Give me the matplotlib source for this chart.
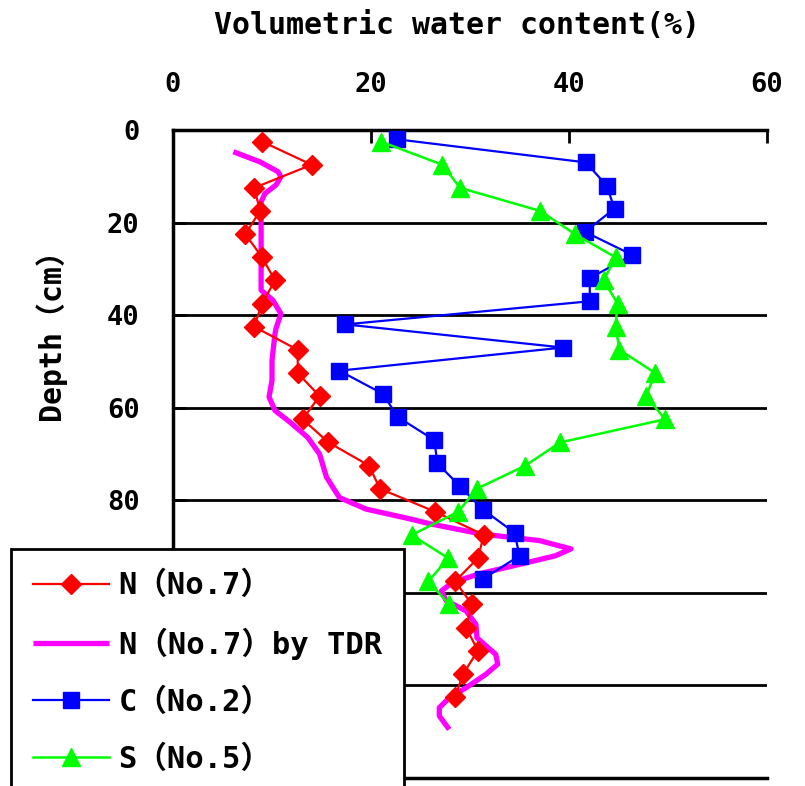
import matplotlib
matplotlib.use("Agg")
import matplotlib.pyplot as plt

plt.rcParams['font.family'] = ['DejaVu Sans Mono', 'Noto Sans CJK JP']
plt.rcParams['font.weight'] = 'bold'

# Soil water profiles: depth (cm) vs volumetric water content (%)
n7_depth = [2.5, 7.5, 12.5, 17.5, 22.5, 27.5, 32.5, 37.5, 42.5, 47.5, 52.5, 57.5,
            62.5, 67.5, 72.5, 77.5, 82.5, 87.5, 92.5, 97.5, 102.5, 107.5, 112.5,
            117.5, 122.5]
n7_theta = [9.0, 14.0, 8.2, 8.8, 7.3, 9.0, 10.3, 9.0, 8.2, 12.6, 12.6, 14.8,
            13.1, 15.7, 19.8, 20.9, 26.5, 31.4, 30.8, 28.5, 30.2, 29.6, 30.8,
            29.3, 28.5]

tdr_depth = [4.7, 6.9, 9.0, 10.1, 11.9, 13.7, 15.5, 19.5, 34.6, 36.8, 39.7, 42.9,
             44.0, 49.8, 54.1, 57.7, 60.6, 63.1, 66.4, 70.0, 75.0, 79.4, 81.9,
             84.0, 85.1, 87.3, 88.7, 90.5, 92.0, 94.2, 95.9, 97.8, 99.6, 101.7,
             103.9, 106.8, 109.7, 113.3, 115.4, 117.6, 120.5, 122.7, 124.8,
             126.6, 129.5]
tdr_theta = [6.1, 8.8, 10.6, 10.9, 10.4, 9.3, 8.9, 8.9, 8.9, 10.1, 10.9, 10.4,
             10.3, 10.0, 10.0, 9.7, 10.3, 11.8, 13.6, 14.8, 15.5, 16.8, 19.5,
             23.9, 26.0, 31.2, 37.0, 40.2, 38.6, 34.3, 30.9, 28.2, 27.1, 27.6,
             29.6, 30.6, 30.7, 32.6, 32.8, 31.6, 29.6, 27.9, 26.9, 26.9, 27.9]

c2_depth = [2, 7, 12, 17, 22, 27, 32, 37, 42, 47, 52, 57, 62, 67, 72, 77, 82,
            87, 92, 97]
c2_theta = [22.6, 41.7, 43.8, 44.6, 41.6, 46.4, 42.1, 42.1, 17.4, 39.4, 16.8,
            21.2, 22.7, 26.4, 26.7, 29.0, 31.3, 34.5, 35.0, 31.3]

s5_depth = [2.5, 7.5, 12.5, 17.5, 22.5, 27.5, 32.5, 37.5, 42.5, 47.5, 52.5,
            57.5, 62.5, 67.5, 72.5, 77.5, 82.5, 87.5, 92.5, 97.5, 102.5]
s5_theta = [21.0, 27.2, 29.0, 37.1, 40.6, 44.7, 43.5, 44.9, 44.7, 45.1, 48.7,
            47.8, 49.7, 39.1, 35.6, 30.7, 28.8, 24.1, 27.8, 25.8, 27.9]

x_ticks = [0, 20, 40, 60]
y_ticks = [0, 20, 40, 60, 80, 100, 120]
# the lower depth labels sit behind the legend box
y_labels = ['0', '20', '40', '60', '80', '', '']

fig = plt.figure(figsize=(8.05, 7.86), dpi=100)
ax = fig.add_axes([173 / 805, 1 - 778 / 786, (767 - 173) / 805, (778 - 130) / 786])

ax.plot(n7_theta, n7_depth, color='#ff0000', lw=1.6, marker='D', ms=10.5,
        mec='#ff0000', mfc='#ff0000', label='N（No.7）', zorder=4)
ax.plot(tdr_theta, tdr_depth, color='#ff00ff', lw=3.8, label='N（No.7）by TDR',
        zorder=3, solid_joinstyle='round', solid_capstyle='butt')
ax.plot(c2_theta, c2_depth, color='#0000ff', lw=1.6, marker='s', ms=11,
        mec='#0000ff', mfc='#0000ff', label='C（No.2）', zorder=5)
ax.plot(s5_theta, s5_depth, color='#00ff00', lw=1.8, marker='^', ms=13,
        mec='#00ff00', mfc='#00ff00', label='S（No.5）', zorder=6)

ax.set_xlim(0, 60)
ax.set_ylim(140, 0)
ax.set_xticks(x_ticks)
ax.set_yticks(y_ticks)
ax.set_yticklabels(y_labels)
ax.xaxis.tick_top()
ax.tick_params(axis='x', direction='in', length=9, width=2, pad=23,
               labelsize=19.5)
ax.tick_params(axis='y', direction='in', length=9, width=2, pad=24,
               labelsize=19.5)
for lbl in ax.get_xticklabels() + ax.get_yticklabels():
    lbl.set_fontweight('bold')

for d in y_ticks[1:]:
    ax.axhline(d, color='black', lw=2, zorder=1)

ax.spines['right'].set_visible(False)
for s in ['top', 'left', 'bottom']:
    ax.spines[s].set_linewidth(2.5)

fig.text(457 / 805, 1 - 25 / 786, 'Volumetric water content(%)', ha='center',
         va='center', fontsize=21.5, fontweight='bold')
fig.text(50 / 805, 1 - 327 / 786, 'Depth（cm）', ha='center', va='center',
         rotation=90, fontsize=21.5, fontweight='bold')

leg = fig.legend(loc='upper left', bbox_to_anchor=(11 / 805, 1 - 549 / 786),
                 fontsize=22, handlelength=2.5, handletextpad=0.3,
                 labelspacing=0.9, borderpad=0.72, fancybox=False,
                 framealpha=1, edgecolor='black', borderaxespad=0)
leg.get_frame().set_linewidth(2)
for t in leg.get_texts():
    t.set_fontweight('bold')

fig.savefig('out.png', dpi=100)
